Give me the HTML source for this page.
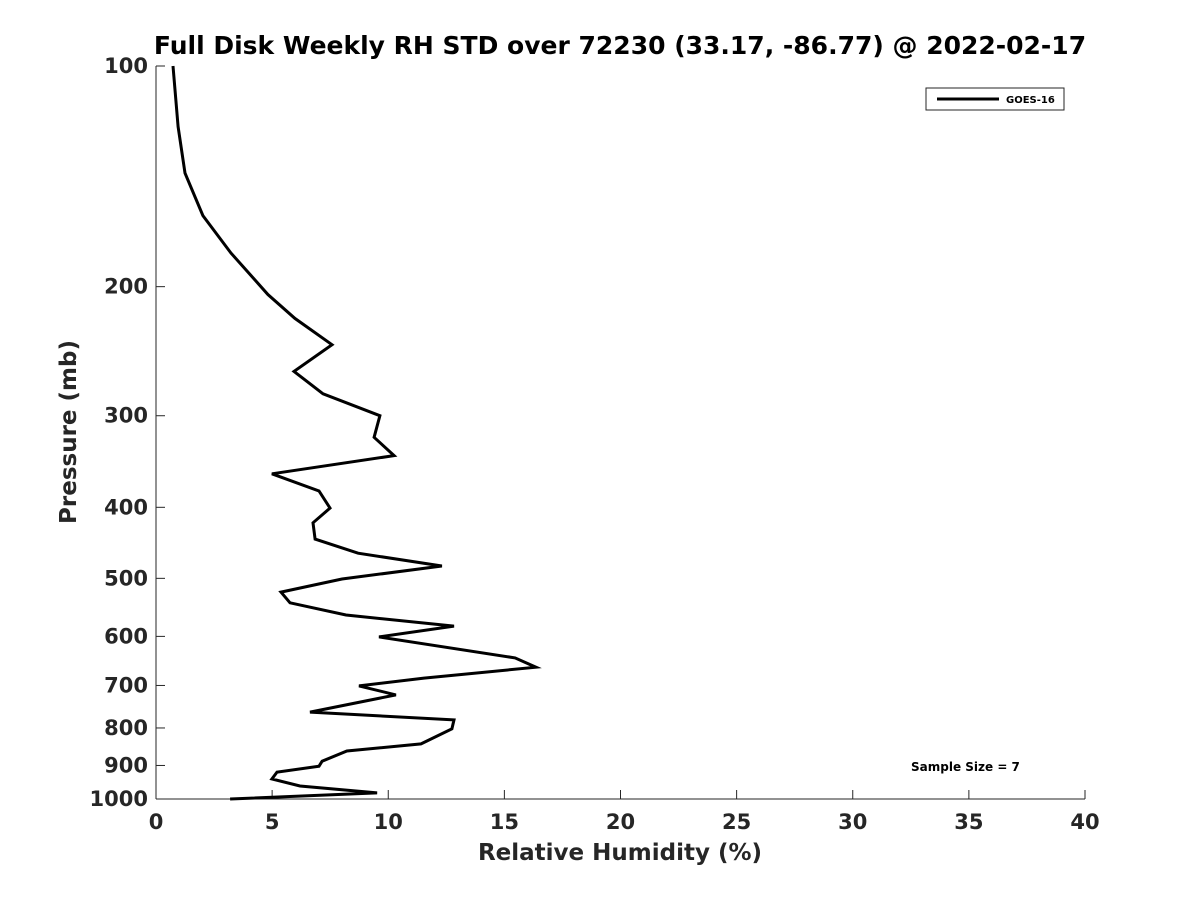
<!DOCTYPE html>
<html><head><meta charset="utf-8"><style>
body{margin:0;background:#fff;}
svg text{font-family:"DejaVu Sans","Liberation Sans",sans-serif;font-weight:bold;fill:#262626;}
</style></head><body>
<svg id="chart" width="1200" height="900" xmlns="http://www.w3.org/2000/svg">
<rect width="1200" height="900" fill="#fff"/>
<text x="620" y="54" font-size="25" text-anchor="middle" style="fill:#000">Full Disk Weekly RH STD over 72230 (33.17, -86.77) @ 2022-02-17</text>
<g id="axes"></g>
<g id="series"></g>
<g>
<rect x="926" y="88" width="138" height="22" fill="#fff" stroke="#262626" stroke-width="1"/>
<line x1="937" y1="99" x2="999" y2="99" stroke="#000" stroke-width="3"/>
<text x="1006" y="103" font-size="10" style="fill:#000">GOES-16</text>
</g>
<text x="911" y="771" font-size="12" style="fill:#000">Sample Size = 7</text>
<text x="620" y="860" font-size="23" text-anchor="middle">Relative Humidity (%)</text>
<text transform="translate(76,432) rotate(-90)" font-size="23" text-anchor="middle">Pressure (mb)</text>
</svg>
<script>
const xTicks=[0,5,10,15,20,25,30,35,40];
const yTicks=[100,200,300,400,500,600,700,800,900,1000];
const rhStd=[0.73,0.95,1.25,2.02,3.23,4.82,5.98,7.58,5.94,7.19,9.64,9.39,10.25,4.99,7.02,7.49,6.76,6.85,8.70,12.31,8.01,5.38,5.77,8.18,12.83,9.60,15.46,16.36,11.54,8.74,10.33,6.63,12.83,12.74,11.41,8.22,7.15,7.02,5.21,4.99,6.20,9.52,3.19];
const pressure=[100,121,140,160,180,205,221,240,261,280,300,321,340,360,380,401,420,442,462,481,501,522,540,561,581,601,642,661,684,701,721,761,780,802,841,860,888,902,919,939,960,981,1000];
const X0=156,X1=1085,Y0=66,Y1=799;
const xs=v=>X0+(v-0)/(40-0)*(X1-X0);
const ys=p=>Y0+(Math.log10(p)-2)/(1)*(Y1-Y0);
const NS="http://www.w3.org/2000/svg";
const axes=document.getElementById('axes');
function mk(tag,attrs,parent){const e=document.createElementNS(NS,tag);for(const k in attrs)e.setAttribute(k,attrs[k]);parent.appendChild(e);return e;}
const xa=mk('line',{x1:X0,y1:Y1,x2:X1,y2:Y1,stroke:'#262626','stroke-width':1},axes);


const ya=mk('line',{x1:X0,y1:Y0,x2:X0,y2:Y1,stroke:'#262626','stroke-width':1},axes);


xTicks.forEach(t=>{const x=xs(t);
 const l=mk('line',{x1:x,y1:Y1,x2:x,y2:Y1-9,stroke:'#262626','stroke-width':1},axes);
 
 
 const tx=mk('text',{x:x,y:Y1+30,'font-size':21,'text-anchor':'middle'},axes);tx.textContent=t;
 
 
});
yTicks.forEach(t=>{const y=ys(t);
 const l=mk('line',{x1:X0,y1:y,x2:X0+9,y2:y,stroke:'#262626','stroke-width':1},axes);
 
 
 const tx=mk('text',{x:X0-8,y:y+7,'font-size':21,'text-anchor':'end'},axes);tx.textContent=t;
 
 
});
const pts=rhStd.map((v,i)=>xs(v).toFixed(1)+','+ys(pressure[i]).toFixed(1)).join(' ');
const pl=mk('polyline',{points:pts,fill:'none',stroke:'#000','stroke-width':3,'stroke-linejoin':'miter'},document.getElementById('series'));


</script>
</body></html>
